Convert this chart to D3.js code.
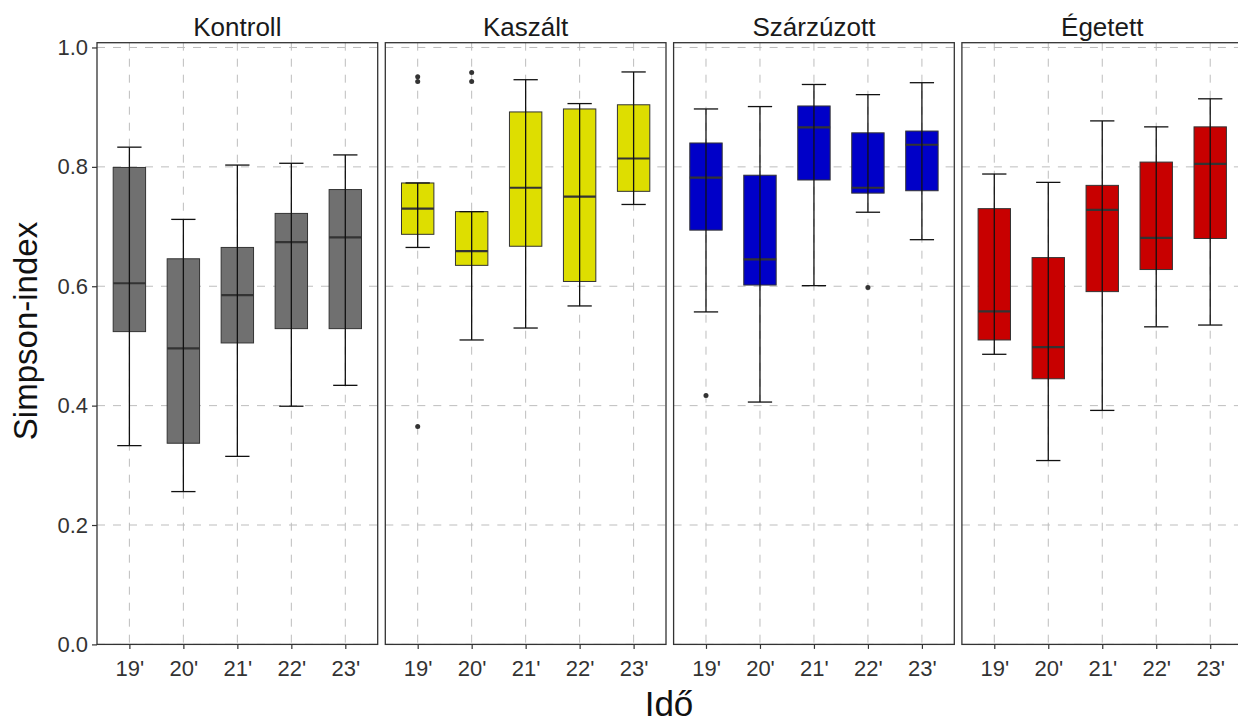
<!DOCTYPE html>
<html><head><meta charset="utf-8">
<script src="https://cdn.jsdelivr.net/npm/d3@7"></script>
<style>body{margin:0;background:#fff}svg{display:block}text{font-family:"Liberation Sans",Arial,sans-serif}</style>
</head><body><svg id="c" width="1238" height="722"></svg>
<script>
const treatments = ["Kontroll","Kaszált","Szárzúzott","Égetett"];
const years = ["19'","20'","21'","22'","23'"];
const fills = ["#707070","#dede00","#0000c8","#c80000"];
const yTicks = [0,0.2,0.4,0.6,0.8,1.0];
// per treatment: [lowerWhisker, q1, median, q3, upperWhisker] per year
const kontroll = [[0.333,0.524,0.605,0.799,0.833],[0.256,0.337,0.496,0.646,0.712],[0.315,0.505,0.585,0.665,0.803],[0.399,0.529,0.674,0.722,0.806],[0.434,0.529,0.682,0.762,0.820]];
const kaszalt = [[0.665,0.687,0.730,0.773,0.773],[0.510,0.635,0.659,0.725,0.725],[0.530,0.667,0.765,0.892,0.946],[0.567,0.608,0.750,0.897,0.906],[0.737,0.759,0.814,0.904,0.959]];
const szarzuzott = [[0.557,0.694,0.782,0.840,0.897],[0.406,0.602,0.645,0.786,0.901],[0.601,0.778,0.866,0.902,0.938],[0.724,0.756,0.765,0.857,0.921],[0.678,0.760,0.837,0.860,0.941]];
const egetett = [[0.486,0.510,0.558,0.730,0.788],[0.308,0.445,0.498,0.648,0.774],[0.392,0.591,0.728,0.769,0.877],[0.532,0.628,0.681,0.808,0.867],[0.535,0.680,0.805,0.867,0.914]];
// outliers: [treatmentIndex, yearIndex, value]
const outliers = [[1,0,0.951],[1,0,0.943],[1,0,0.365],[1,1,0.958],[1,1,0.943],[2,0,0.417],[2,3,0.598]];
const stats = [kontroll,kaszalt,szarzuzott,egetett];

const svg = d3.select("#c");
const panelTop = 42.7, panelBottom = 644.4, panelW = 280.7, stride = 288.3, firstLeft = 97;
const y = d3.scaleLinear().domain([0,1.008]).range([panelBottom,panelTop]);
const tickFont = 22;

treatments.forEach((t,i)=>{
  const left = firstLeft + i*stride;
  const x = d3.scalePoint().domain(years).range([left,left+panelW]).padding(0.6);
  const step = x.step();
  const g = svg.append("g");
  g.selectAll(".hg").data(yTicks).join("line")
    .attr("x1",left).attr("x2",left+panelW).attr("y1",d=>y(d)).attr("y2",d=>y(d))
    .attr("stroke","#bdbdbd").attr("stroke-width",1).attr("stroke-dasharray","8,8");
  g.selectAll(".vg").data(years).join("line")
    .attr("x1",d=>x(d)).attr("x2",d=>x(d)).attr("y1",panelTop).attr("y2",panelBottom)
    .attr("stroke","#bdbdbd").attr("stroke-width",1).attr("stroke-dasharray","8,8");
  const bw = step*0.6, cw = step*0.45;
  const data = stats[i].map((s,j)=>({yr:years[j],s}));
  g.selectAll(".box").data(data).join("rect")
    .attr("x",d=>x(d.yr)-bw/2).attr("width",bw)
    .attr("y",d=>y(d.s[3])).attr("height",d=>y(d.s[1])-y(d.s[3]))
    .attr("fill",fills[i]).attr("stroke","#333").attr("stroke-width",1);
  g.selectAll(".med").data(data).join("line")
    .attr("x1",d=>x(d.yr)-bw/2).attr("x2",d=>x(d.yr)+bw/2)
    .attr("y1",d=>y(d.s[2])).attr("y2",d=>y(d.s[2]))
    .attr("stroke","#333").attr("stroke-width",2.2);
  g.selectAll(".wv").data(data).join("line")
    .attr("x1",d=>x(d.yr)).attr("x2",d=>x(d.yr))
    .attr("y1",d=>y(d.s[0])).attr("y2",d=>y(d.s[4]))
    .attr("stroke","#111").attr("stroke-width",1.3);
  [0,4].forEach(k=>{
    g.selectAll(".cap"+k).data(data).join("line")
      .attr("x1",d=>x(d.yr)-cw/2).attr("x2",d=>x(d.yr)+cw/2)
      .attr("y1",d=>y(d.s[k])).attr("y2",d=>y(d.s[k]))
      .attr("stroke","#111").attr("stroke-width",1.3);
  });
  g.selectAll(".out").data(outliers.filter(o=>o[0]===i)).join("circle")
    .attr("cx",d=>x(years[d[1]])).attr("cy",d=>y(d[2])).attr("r",2.5).attr("fill","#333");
  g.append("rect").attr("x",left).attr("y",panelTop).attr("width",panelW).attr("height",panelBottom-panelTop)
    .attr("fill","none").attr("stroke","#333").attr("stroke-width",1.3);
  g.append("text").attr("x",left+panelW/2).attr("y",36).attr("text-anchor","middle")
    .attr("font-size",26).attr("fill","#1a1a1a").text(t);
  const xa = svg.append("g").attr("transform",`translate(0,${panelBottom})`)
    .call(d3.axisBottom(x).tickSize(4.5).tickPadding(11));
  xa.select(".domain").remove();
  xa.selectAll("line").attr("stroke","#333").attr("stroke-width",1.2);
  xa.selectAll("text").attr("font-size",tickFont).attr("fill","#333").attr("dy","0.71em")
    .attr("font-family","Liberation Sans, Arial, sans-serif");
  if(i===0){
    const ya = svg.append("g").attr("transform",`translate(${left},0)`)
      .call(d3.axisLeft(y).tickValues(yTicks).tickFormat(d3.format(".1f")).tickSize(5).tickPadding(4));
    ya.select(".domain").remove();
    ya.selectAll("line").attr("stroke","#333").attr("stroke-width",1.2);
    ya.selectAll("text").attr("font-size",tickFont).attr("fill","#333")
      .attr("font-family","Liberation Sans, Arial, sans-serif");
  }
});
svg.append("text").attr("transform",`translate(37,331) rotate(-90)`)
  .attr("text-anchor","middle").attr("font-size",33).attr("fill","#111").text("Simpson-index");
svg.append("text").attr("x",669).attr("y",716).attr("text-anchor","middle")
  .attr("font-size",35).attr("fill","#111").text("Idő");
</script></body></html>
